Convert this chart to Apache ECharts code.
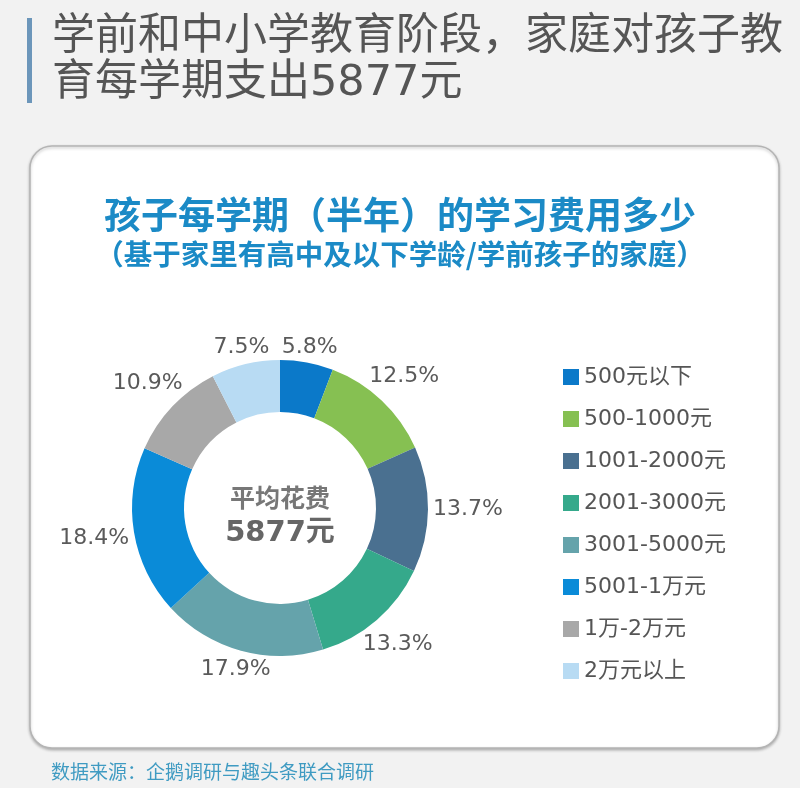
<!DOCTYPE html>
<html lang="zh-CN">
<head>
    <meta charset="UTF-8">
    <title>孩子每学期的学习费用</title>
    <script src="https://cdn.jsdelivr.net/npm/echarts@6/dist/echarts.min.js"></script>
    <style>
        html, body {
            margin: 0;
            padding: 0;
            background: #f2f2f2;
        }
        #chart {
            width: 800px;
            height: 788px;
        }
    </style>
</head>
<body>
    <div id="chart"></div>

    <script>
        var categories = ['500元以下', '500-1000元', '1001-2000元', '2001-3000元', '3001-5000元', '5001-1万元', '1万-2万元', '2万元以上'];
        var shares = [5.8, 12.5, 13.7, 13.3, 17.9, 18.4, 10.9, 7.5];
        var colors = ['#0b79c9', '#86c052', '#4a7090', '#35a98b', '#65a3ab', '#0a8bd8', '#a8a8a8', '#b8dbf3'];
        var averageCost = '5877元';

        var font = '"Noto Sans CJK SC", "Microsoft YaHei", sans-serif';
        // wide digits like the original, Chinese falls back to Noto
        var wideFont = '"DejaVu Sans", "Noto Sans CJK SC", sans-serif';
        var myChart = echarts.init(document.getElementById('chart'));

        var pieData = categories.map(function (name, i) {
            return { name: name, value: shares[i], itemStyle: { color: colors[i] } };
        });

        var option = {
            backgroundColor: '#f2f2f2',
            textStyle: { fontFamily: font },
            title: [
                {
                    text: '学前和中小学教育阶段，家庭对孩子教\n育每学期支出5877元',
                    left: 47,
                    top: 10,
                    textStyle: { fontSize: 43, fontWeight: 'normal', color: '#555', lineHeight: 46, fontFamily: wideFont }
                },
                {
                    text: '孩子每学期（半年）的学习费用多少',
                    left: 'center',
                    top: 191,
                    textStyle: { fontSize: 37, fontWeight: 'bold', color: '#1b8ac6', fontFamily: font }
                },
                {
                    text: '（基于家里有高中及以下学龄/学前孩子的家庭）',
                    left: 'center',
                    top: 235,
                    textStyle: { fontSize: 28.5, fontWeight: 'bold', color: '#1b8ac6', fontFamily: font }
                },
                {
                    text: '数据来源：企鹅调研与趣头条联合调研',
                    left: 46,
                    top: 757,
                    textStyle: { fontSize: 19, fontWeight: 'normal', color: '#3f9bc2', fontFamily: font }
                }
            ],
            graphic: [
                {
                    type: 'rect', z: -10,
                    shape: { x: 27, y: 18, width: 5, height: 85 },
                    style: { fill: '#6c96ba' }
                },
                {
                    type: 'rect', z: -10,
                    shape: { x: 30, y: 146, width: 749, height: 602, r: 22 },
                    style: {
                        fill: '#fff', stroke: '#b4b4b4', lineWidth: 1.5,
                        shadowBlur: 3, shadowOffsetY: 1.5, shadowColor: 'rgba(0,0,0,0.25)'
                    }
                },
                {
                    type: 'text', x: 280, y: 497,
                    style: { text: '平均花费', fill: '#777', font: 'bold 25px ' + font, align: 'center', verticalAlign: 'middle' }
                },
                {
                    type: 'text', x: 280, y: 533,
                    style: { text: averageCost, fill: '#666', font: 'bold 29px ' + wideFont, align: 'center', verticalAlign: 'middle' }
                }
            ],
            legend: {
                orient: 'vertical',
                left: 558,
                top: 361,
                icon: 'rect',
                itemWidth: 16,
                itemHeight: 16,
                itemGap: 20,
                data: categories,
                textStyle: { fontSize: 22, color: '#555', fontFamily: wideFont }
            },
            series: [
                {
                    type: 'pie',
                    center: [280, 508],
                    radius: [96, 148],
                    startAngle: 90,
                    clockwise: true,
                    avoidLabelOverlap: false,
                    silent: true,
                    data: pieData,
                    label: {
                        show: true,
                        position: 'outside',
                        formatter: '{c}%',
                        fontSize: 22,
                        color: '#5a5a5a',
                        fontFamily: wideFont
                    },
                    labelLine: {
                        show: true,
                        length: 10,
                        length2: 0,
                        lineStyle: { opacity: 0 }
                    },
                    // centre each label on the ray through its slice, just clear of the ring
                    labelLayout: function (p) {
                        var pts = p.labelLinePoints;
                        if (!pts) return {};
                        var dx = pts[1][0] - pts[0][0];
                        var dy = pts[1][1] - pts[0][1];
                        var len = Math.sqrt(dx * dx + dy * dy) || 1;
                        dx /= len;
                        dy /= len;
                        var d = 5 + Math.abs(dx) * p.labelRect.width / 2 + Math.abs(dy) * p.labelRect.height / 4;
                        return {
                            x: pts[0][0] + dx * d,
                            y: pts[0][1] + dy * d,
                            align: 'center',
                            verticalAlign: 'middle'
                        };
                    }
                }
            ]
        };

        myChart.setOption(option);
    </script>
</body>
</html>
